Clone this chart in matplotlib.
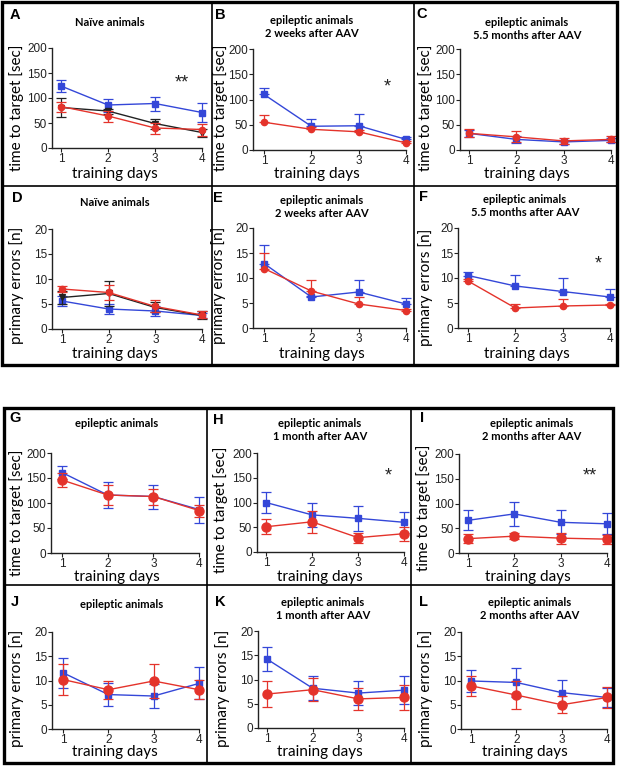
import matplotlib
matplotlib.use('Agg')
import matplotlib.pyplot as plt
from matplotlib.patches import Rectangle

W, H = 622, 769
fig = plt.figure(figsize=(6.22, 7.69), dpi=100)

def fx(x):
    return x / W

def fy(y):
    return 1 - y / H

BLUE = '#3447d8'
RED = '#e4332b'
BLACK = '#222222'

days = [1, 2, 3, 4]
xtick_labels = ['1', '2', '3', '4']
time_ticks = [0, 50, 100, 150, 200]
err_ticks = [0, 5, 10, 15, 20]

# ---- data (mean, sem) ----
A_blue = [124, 86, 89, 71];  A_blue_sem = [12, 13, 14, 19]
A_red = [83, 64, 40, 37];    A_red_sem = [10, 11, 11, 12]
A_black = [81, 74, 49, 31];  A_black_sem = [19, 5, 10, 8]

B_blue = [110, 47, 48, 21];  B_blue_sem = [12, 15, 23, 4]
B_red = [55, 41, 36, 14];    B_red_sem = [14, 4, 3, 3]

C_blue = [33, 21, 16, 19];   C_blue_sem = [7, 7, 4, 4]
C_red = [33, 26, 18, 21];    C_red_sem = [8, 11, 6, 6]

D_blue = [5.6, 4.0, 3.6, 2.7];  D_blue_sem = [1.0, 1.0, 1.0, 0.5]
D_red = [8.0, 7.3, 4.5, 2.8];   D_red_sem = [0.7, 1.5, 1.2, 0.7]
D_black = [6.3, 7.1, 4.3, 2.7]; D_black_sem = [1.3, 2.5, 1.0, 0.8]

E_blue = [12.9, 6.2, 7.2, 4.8]; E_blue_sem = [3.8, 0.3, 2.4, 1.3]
E_red = [11.9, 7.4, 4.8, 3.5];  E_red_sem = [3.2, 2.2, 1.5, 0.3]

F_blue = [10.5, 8.4, 7.3, 6.2]; F_blue_sem = [0.7, 2.3, 2.8, 1.6]
F_red = [9.4, 4.0, 4.4, 4.6];   F_red_sem = [0.5, 0.8, 1.5, 0.3]

G_blue = [161, 116, 113, 87];   G_blue_sem = [13, 26, 24, 26]
G_red = [146, 116, 113, 85];    G_red_sem = [14, 20, 16, 12]

H_blue = [100, 75, 68, 60];     H_blue_sem = [22, 25, 25, 21]
H_red = [51, 61, 29, 37];       H_red_sem = [15, 22, 10, 14]

I_blue = [66, 79, 62, 59];      I_blue_sem = [20, 24, 24, 21]
I_red = [29, 34, 30, 28];       I_red_sem = [9, 6, 11, 9]

J_blue = [11.6, 7.1, 6.8, 9.4]; J_blue_sem = [3.1, 2.3, 2.5, 3.3]
J_red = [10.2, 8.1, 9.9, 8.1];  J_red_sem = [3.1, 1.9, 3.6, 2.0]

K_blue = [14.2, 8.2, 7.2, 7.8]; K_blue_sem = [2.5, 2.5, 2.4, 2.9]
K_red = [7.0, 7.9, 6.0, 6.3];   K_red_sem = [2.6, 2.4, 2.3, 2.6]

L_blue = [9.9, 9.6, 7.5, 6.5];  L_blue_sem = [2.2, 2.9, 2.6, 2.0]
L_red = [8.9, 7.0, 5.0, 6.5];   L_red_sem = [2.1, 2.8, 1.8, 2.2]

titles = {
    'A': 'Naïve animals',
    'B': 'epileptic animals\n2 weeks after AAV',
    'C': 'epileptic animals\n5.5 months after AAV',
    'D': 'Naïve animals',
    'E': 'epileptic animals\n2 weeks after AAV',
    'F': 'epileptic animals\n5.5 months after AAV',
    'G': 'epileptic animals',
    'H': 'epileptic animals\n1 month after AAV',
    'I': 'epileptic animals\n2 months after AAV',
    'J': 'epileptic animals',
    'K': 'epileptic animals\n1 month after AAV',
    'L': 'epileptic animals\n2 months after AAV',
}
ylab_time = 'time to target [sec]'
ylab_err = 'primary errors [n]'
xlab = 'training days'

stars = {'A': ('**', 3.57, 131), 'B': ('*', 3.6, 125), 'F': ('*', 3.75, 12.8),
         'H': ('*', 3.65, 154), 'I': ('**', 3.63, 155)}

# ---- layout (pixels): axes left, x=1, x=4, y top, y zero ----
geom = {
    'A': (52, 61, 202, 48, 148), 'B': (253, 264, 406, 49, 150), 'C': (460, 469, 611, 49, 150),
    'D': (52, 62, 202, 229, 329), 'E': (253, 264, 406, 228, 328), 'F': (458, 468, 610, 228, 328),
    'G': (51, 62, 199, 453, 553), 'H': (257, 266, 404, 453, 552), 'I': (459, 468, 607, 454, 553),
    'J': (52, 63, 199, 632, 729), 'K': (258, 267, 404, 631, 728), 'L': (461, 471, 607, 632, 729),
}
letter_pos = {'A': (15, 15), 'B': (220, 15), 'C': (422, 14), 'D': (17, 198), 'E': (218, 198),
              'F': (423, 197), 'G': (15, 418), 'H': (218, 420), 'I': (422, 418),
              'J': (15, 602), 'K': (220, 602), 'L': (423, 602)}
title_pos = {'A': (110, 23), 'B': (312, 27), 'C': (527, 29), 'D': (115, 202), 'E': (322, 207),
             'F': (525, 206), 'G': (117, 424), 'H': (320, 430), 'I': (532, 430),
             'J': (122, 605), 'K': (323, 609), 'L': (530, 609)}
ylab_pos = {'A': (17, 108), 'B': (221, 108), 'C': (426, 108), 'D': (17, 285), 'E': (219, 285),
            'F': (426, 287), 'G': (17, 513), 'H': (221, 510), 'I': (424, 508),
            'J': (17, 688), 'K': (223, 688), 'L': (426, 688)}
xlab_pos = {'A': (115, 174), 'B': (317, 174), 'C': (527, 174), 'D': (115, 354), 'E': (322, 354),
            'F': (527, 354), 'G': (117, 577), 'H': (320, 577), 'I': (528, 577),
            'J': (115, 752), 'K': (320, 752), 'L': (525, 752)}

series = {
    'A': [(A_blue, A_blue_sem, BLUE, 's'), (A_black, A_black_sem, BLACK, 'v'), (A_red, A_red_sem, RED, 'o')],
    'B': [(B_blue, B_blue_sem, BLUE, 's'), (B_red, B_red_sem, RED, 'o')],
    'C': [(C_blue, C_blue_sem, BLUE, 's'), (C_red, C_red_sem, RED, 'o')],
    'D': [(D_blue, D_blue_sem, BLUE, 's'), (D_black, D_black_sem, BLACK, 'v'), (D_red, D_red_sem, RED, 'o')],
    'E': [(E_blue, E_blue_sem, BLUE, 's'), (E_red, E_red_sem, RED, 'o')],
    'F': [(F_blue, F_blue_sem, BLUE, 's'), (F_red, F_red_sem, RED, 'o')],
    'G': [(G_blue, G_blue_sem, BLUE, 's'), (G_red, G_red_sem, RED, 'o')],
    'H': [(H_blue, H_blue_sem, BLUE, 's'), (H_red, H_red_sem, RED, 'o')],
    'I': [(I_blue, I_blue_sem, BLUE, 's'), (I_red, I_red_sem, RED, 'o')],
    'J': [(J_blue, J_blue_sem, BLUE, 's'), (J_red, J_red_sem, RED, 'o')],
    'K': [(K_blue, K_blue_sem, BLUE, 's'), (K_red, K_red_sem, RED, 'o')],
    'L': [(L_blue, L_blue_sem, BLUE, 's'), (L_red, L_red_sem, RED, 'o')],
}
one_sided = {'B', 'E', 'F'}
time_panels = {'A', 'B', 'C', 'G', 'H', 'I'}
big_markers = {'G', 'H', 'I', 'J', 'K', 'L'}

LABEL_FONT = 'Lato'
TICK_FONT = 'Liberation Sans'

for key in 'ABCDEFGHIJKL':
    xl, x1, x4, yt, y0 = geom[key]
    ax = fig.add_axes([fx(xl), fy(y0), (x4 - xl) / W, (y0 - yt) / H])
    unit = (x4 - x1) / 3.0
    ax.set_xlim(1 - (x1 - xl) / unit, 4)
    if key in time_panels:
        ax.set_ylim(0, 200)
        ax.set_yticks(time_ticks)
    else:
        ax.set_ylim(0, 20)
        ax.set_yticks(err_ticks)
    ax.set_xticks(days)
    ax.set_xticklabels(xtick_labels)
    for s in ('top', 'right'):
        ax.spines[s].set_visible(False)
    for s in ('left', 'bottom'):
        ax.spines[s].set_linewidth(1.0)
        ax.spines[s].set_color('#222222')
    ax.tick_params(direction='out', length=3, width=0.8, labelsize=8.5, pad=0.5, colors='#222222')
    for lab in ax.get_xticklabels() + ax.get_yticklabels():
        lab.set_family(TICK_FONT)
    ax.patch.set_alpha(0)

    for i, (m, e, c, mk) in enumerate(series[key]):
        if key in one_sided:
            yerr = [[0] * len(e), e]
        else:
            yerr = e
        if key in big_markers:
            ms = 6.5 if mk == 'o' else 5
        else:
            ms = 4.5
            if mk == 'v':
                ms = 4
        cont = ax.errorbar(days, m, yerr=yerr, color=c, marker=mk, ms=ms, lw=1.0,
                           elinewidth=0.9, capsize=3.5, capthick=0.9, zorder=3 + i)
        line, caps, bars = cont.lines
        line.set_clip_on(False)
        for a in caps:
            a.set_clip_on(False)
        for a in bars:
            a.set_clip_on(False)

    if key in stars:
        t, sx, sy = stars[key]
        ax.text(sx, sy, t, ha='center', va='center', fontsize=13, family=TICK_FONT, color='#222222')

    # texts
    lx, ly = letter_pos[key]
    fig.text(fx(lx), fy(ly), key, ha='center', va='center', fontsize=10.5, fontweight='bold',
             family=TICK_FONT)
    tx, ty = title_pos[key]
    fig.text(fx(tx), fy(ty), titles[key], ha='center', va='center', fontsize=8,
             fontweight='bold', family=LABEL_FONT, linespacing=1.25)
    yx, yy = ylab_pos[key]
    fig.text(fx(yx), fy(yy), ylab_time if key in time_panels else ylab_err, rotation=90,
             ha='center', va='center', fontsize=11, family=LABEL_FONT)
    xx, xy = xlab_pos[key]
    fig.text(fx(xx), fy(xy), xlab, ha='center', va='center', fontsize=11, family=LABEL_FONT)

# ---- panel borders ----
def rect(x0, y0, x1, y1, lw):
    fig.add_artist(Rectangle((fx(x0), fy(y1)), (x1 - x0) / W, (y1 - y0) / H,
                             transform=fig.transFigure, fill=False, lw=lw, ec='black'))

def line(xa, ya, xb, yb, lw):
    fig.add_artist(plt.Line2D([fx(xa), fx(xb)], [fy(ya), fy(yb)], transform=fig.transFigure,
                              lw=lw, color='black'))

rect(2, 2, 617, 365, 2.4)
line(2, 186, 617, 186, 1.2)
line(212, 2, 212, 365, 1.2)
line(414, 2, 414, 365, 1.2)

rect(4, 408, 613, 763, 2.4)
line(4, 585, 613, 585, 1.2)
line(207, 408, 207, 763, 1.2)
line(411, 408, 411, 763, 1.2)

fig.savefig('out.png', dpi=100)
